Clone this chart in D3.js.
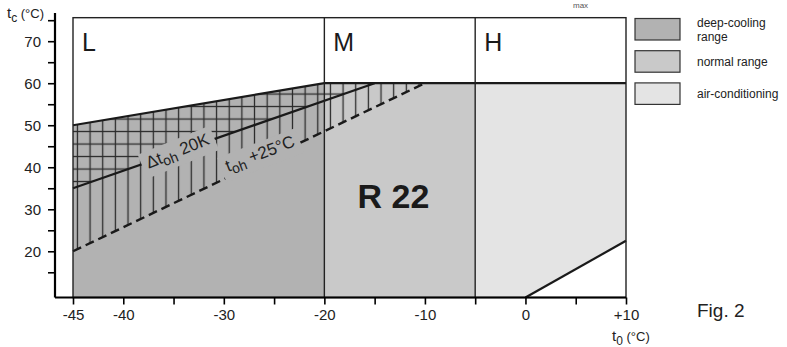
<!DOCTYPE html>
<html lang="en">
<head>
    <meta charset="UTF-8">
    <title>R 22 application limits</title>
    <script src="https://cdn.jsdelivr.net/npm/d3@7"></script>
    <style>
        body { margin: 0; background: #fff; }
        svg { font-family: "Liberation Sans", Arial, sans-serif; }
        .axis text { font-size: 15px; fill: #222; }
    </style>
</head>
<body>
<svg width="787" height="347"></svg>
<script>

    // evaporating temperature t0 / condensing temperature tc, both in °C
    const xTicks = [-45, -40, -35, -30, -25, -20, -15, -10, -5, 0, 5, 10];
    const xLabels = [-45, -40, -30, -20, -10, 0, 10];
    const yTicks = [15, 20, 25, 30, 35, 40, 45, 50, 55, 60, 65, 70, 75];
    const yLabels = [20, 30, 40, 50, 60, 70];

    const zoneNames = ["L", "M", "H"];
    const zoneBounds = [-45, -20, -5, 10];

    // limit lines
    const upperT0 = [-45, -20, 10];
    const upperTc = [50, 60, 60];
    const dtohT0 = [-45, -15];      // Δt_oh 20K
    const dtohTc = [35, 60];
    const tohT0 = [-45, -10];       // t_oh +25°C
    const tohTc = [20, 60];
    const acT0 = [0, 10];           // lower limit, air-conditioning
    const acTc = [9, 22.5];

    const legendLabels = [["deep-cooling", "range"], ["normal range"], ["air-conditioning"]];
    const zoneColors = ["#b2b2b2", "#c9c9c9", "#e4e4e4"];

    const tcMin = 9, tcTop = 75.6;

    const x = d3.scaleLinear().domain([-45, 10]).range([73, 626]);
    const y = d3.scaleLinear().domain([9, 76]).range([297.5, 16]);

    const svg = d3.select("svg");
    const defs = svg.append("defs");

    const pt = (a, b) => a.map((v, i) => [x(v), y(b[i])]);
    const poly = p => "M" + p.map(d => d.join(",")).join("L") + "Z";

    // hatch patterns
    const step = 12.65;
    const vp = defs.append("pattern").attr("id", "vhatch")
        .attr("patternUnits", "userSpaceOnUse")
        .attr("width", step).attr("height", 20)
        .attr("patternTransform", "translate(-4.8,0)");
    vp.append("line").attr("x1", step / 2).attr("x2", step / 2).attr("y1", 0).attr("y2", 20)
        .attr("stroke", "#2a2a2a").attr("stroke-width", 1.3);
    const hp = defs.append("pattern").attr("id", "hhatch")
        .attr("patternUnits", "userSpaceOnUse")
        .attr("width", 20).attr("height", 12.5)
        .attr("patternTransform", "translate(0,0.3)");
    hp.append("line").attr("x1", 0).attr("x2", 20).attr("y1", 6.25).attr("y2", 6.25)
        .attr("stroke", "#2a2a2a").attr("stroke-width", 1.3);

    // zone fills
    const zoneL = pt([-45, -45, -20, -20], [tcMin, 50, 60, tcMin]);
    const zoneM = pt([-20, -20, -5, -5], [tcMin, 60, 60, tcMin]);
    const zoneH = pt([-5, -5, 10, acT0[1], acT0[0]], [tcMin, 60, 60, acTc[1], acTc[0]]);
    [zoneL, zoneM, zoneH].forEach((p, i) => {
        svg.append("path").attr("d", poly(p)).attr("fill", zoneColors[i]);
    });

    // hatched bands
    const vBand = pt([-45, upperT0[1], tohT0[1], tohT0[0]], [upperTc[0], upperTc[1], 60, tohTc[0]]);
    const crossBand = pt([-45, upperT0[1], dtohT0[1], dtohT0[0]], [upperTc[0], upperTc[1], dtohTc[1], dtohTc[0]]);
    svg.append("path").attr("d", poly(vBand)).attr("fill", "url(#vhatch)");
    svg.append("path").attr("d", poly(crossBand)).attr("fill", "url(#hhatch)");

    // label knock-outs and labels along the limit lines
    function slopeLabel(cx, cy, angle, parts, bg) {
        const g = svg.append("g").attr("transform", `translate(${cx},${cy}) rotate(${angle})`);
        const r = g.append("rect").attr("fill", bg);
        const t = g.append("text").attr("text-anchor", "middle").attr("font-size", 16).attr("fill", "#222");
        parts.forEach(p => {
            t.append("tspan").text(p[0]).attr("font-size", p[1]).attr("dy", p[2]);
        });
        const b = t.node().getBBox();
        r.attr("x", b.x - 5).attr("y", b.y - 2).attr("width", b.width + 10).attr("height", b.height + 4);
        return g;
    }

    // lines
    const line = d3.line();
    svg.append("path").attr("d", line(pt(upperT0, upperTc)))
        .attr("fill", "none").attr("stroke", "#1a1a1a").attr("stroke-width", 2.2);
    svg.append("path").attr("d", line(pt(dtohT0, dtohTc)))
        .attr("fill", "none").attr("stroke", "#1a1a1a").attr("stroke-width", 2.2);
    svg.append("path").attr("d", line(pt(tohT0, tohTc)))
        .attr("fill", "none").attr("stroke", "#1a1a1a").attr("stroke-width", 2.4)
        .attr("stroke-dasharray", "9,5");
    svg.append("path").attr("d", line(pt(acT0, acTc)))
        .attr("fill", "none").attr("stroke", "#1a1a1a").attr("stroke-width", 2.2);

    const lx = -34.4;
    const ly = dtohTc[0] + (lx - dtohT0[0]) * (dtohTc[1] - dtohTc[0]) / (dtohT0[1] - dtohT0[0]);
    slopeLabel(x(lx), y(ly) + 5, -22, [["Δt", 17, 0], ["oh", 14, 4], [" 20K", 17, -4]], zoneColors[0]);
    const tx = -26.2;
    const ty = tohTc[0] + (tx - tohT0[0]) * (tohTc[1] - tohTc[0]) / (tohT0[1] - tohT0[0]);
    slopeLabel(x(tx), y(ty) - 2, -21, [["t", 17, 0], ["oh", 14, 4], [" +25°C", 17, -4]], zoneColors[0]);

    // frame and zone dividers
    svg.append("rect").attr("x", x(-45)).attr("y", y(tcTop))
        .attr("width", x(10) - x(-45)).attr("height", y(tcMin) - y(tcTop))
        .attr("fill", "none").attr("stroke", "#222").attr("stroke-width", 1.4);
    svg.selectAll(".divider").data(zoneBounds.slice(1, 3)).enter().append("line")
        .attr("x1", d => x(d)).attr("x2", d => x(d))
        .attr("y1", y(tcTop)).attr("y2", y(tcMin))
        .attr("stroke", "#222").attr("stroke-width", 1.4);

    svg.selectAll(".zone").data(zoneNames).enter().append("text")
        .attr("x", (d, i) => x(zoneBounds[i]) + 9).attr("y", 51)
        .attr("font-size", 25).attr("fill", "#1a1a1a").text(d => d);

    svg.append("text").attr("x", x(-16.7)).attr("y", 208)
        .attr("font-size", 34).attr("font-weight", "bold").attr("fill", "#1a1a1a").text("R 22");

    // axes
    const xAxis = d3.axisBottom(x).tickValues(xTicks).tickSize(7).tickPadding(5)
        .tickFormat(d => xLabels.includes(d) ? (d > 0 ? "+" + d : d) : "");
    svg.append("g").attr("class", "axis").attr("transform", `translate(0,${y(tcMin)})`)
        .call(xAxis)
        .call(g => g.select(".domain").attr("d", `M${x(-45) - 18},0H${x(10)}`).attr("stroke-width", 2))
        .call(g => g.selectAll(".tick line").attr("stroke-width", 1.6))
        .call(g => g.selectAll(".tick text").attr("dy", "0.72em"));

    const yAxis = d3.axisLeft(y).tickValues(yTicks).tickSize(7).tickPadding(7)
        .tickFormat(d => yLabels.includes(d) ? d : "");
    svg.append("g").attr("class", "axis").attr("transform", `translate(${x(-45) - 18},0)`)
        .call(yAxis)
        .call(g => g.select(".domain").attr("d", `M0,${y(tcMin)}V13`).attr("stroke-width", 2.2))
        .call(g => g.selectAll(".tick line").attr("stroke-width", 1.6));

    // axis titles
    const yt = svg.append("text").attr("x", 7).attr("y", 18).attr("font-size", 15).attr("fill", "#222");
    yt.append("tspan").text("t");
    yt.append("tspan").text("c").attr("font-size", 12).attr("dy", 4);
    yt.append("tspan").text(" (°C)").attr("font-size", 13).attr("dy", -4);
    const xt = svg.append("text").attr("x", 612).attr("y", 341).attr("font-size", 15).attr("fill", "#222");
    xt.append("tspan").text("t");
    xt.append("tspan").text("0").attr("font-size", 12).attr("dy", 4);
    xt.append("tspan").text(" (°C)").attr("font-size", 13).attr("dy", -4);

    // legend
    const leg = svg.selectAll(".leg").data(legendLabels).enter().append("g")
        .attr("transform", (d, i) => `translate(635,${18.5 + i * 32.2})`);
    leg.append("rect").attr("width", 45).attr("height", 21.5)
        .attr("fill", (d, i) => zoneColors[i]).attr("stroke", "#333").attr("stroke-width", 1.2);
    leg.append("text").attr("x", 62).attr("y", d => d.length > 1 ? 8 : 15)
        .attr("font-size", 12).attr("fill", "#222")
        .selectAll("tspan").data(d => d).enter().append("tspan")
        .attr("x", 62).attr("dy", (d, i) => i ? 14 : 0).text(d => d);

    svg.append("text").attr("x", 697).attr("y", 317).attr("font-size", 19).attr("fill", "#222").text("Fig. 2");
    svg.append("text").attr("x", 573).attr("y", 8).attr("font-size", 8).attr("fill", "#555").text("max");

</script>
</body>
</html>
